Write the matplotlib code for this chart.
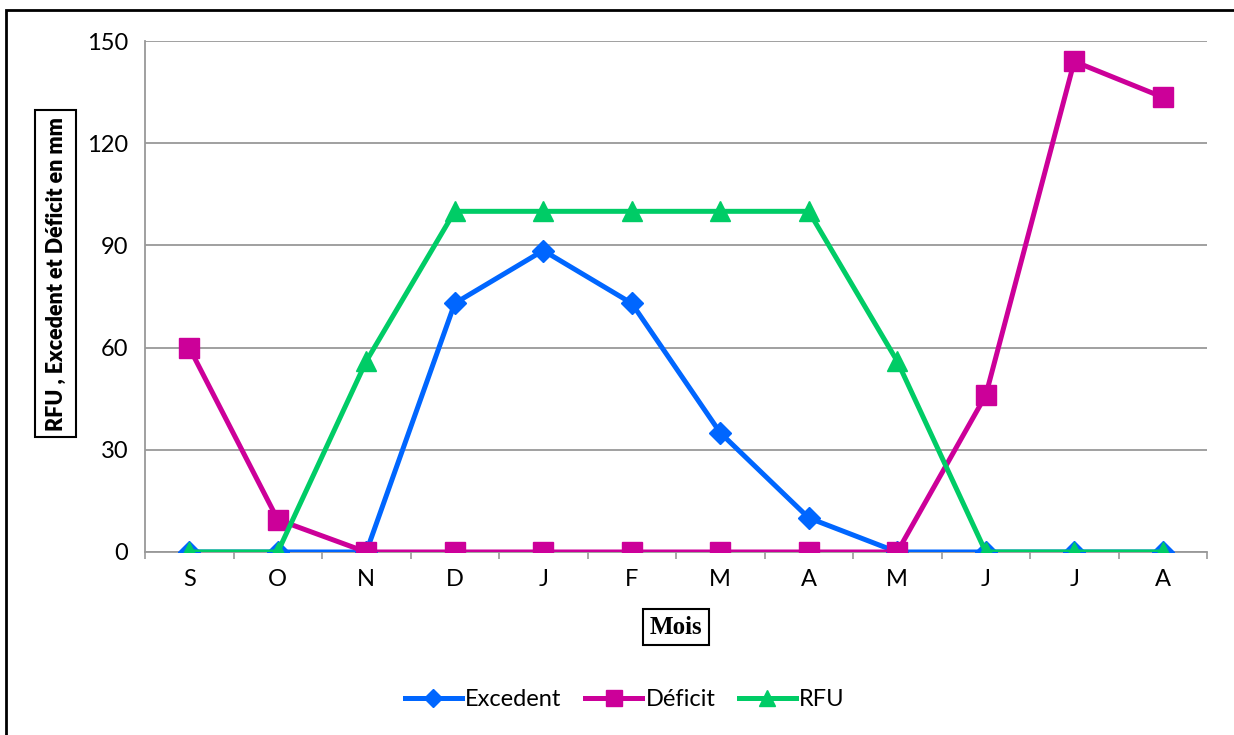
import matplotlib
matplotlib.use("Agg")
import matplotlib.pyplot as plt
from matplotlib.patches import Rectangle

# Monthly water balance (mm)
mois = ["S", "O", "N", "D", "J", "F", "M", "A", "M", "J", "J", "A"]
excedent = [0, 0, 0, 73, 88.5, 73, 35, 10, 0, 0, 0, 0]
deficit = [60, 9.5, 0, 0, 0, 0, 0, 0, 0, 46, 144, 133.5]
rfu = [0, 0, 56, 100, 100, 100, 100, 100, 56, 0, 0, 0]
y_ticks = [0, 30, 60, 90, 120, 150]

W, H = 1234, 735
plt.rcParams["font.family"] = ["Lato", "DejaVu Sans"]

fig = plt.figure(figsize=(W / 100, H / 100), dpi=100)
ax = fig.add_axes([145 / W, 1 - 552 / H, (1207 - 145) / W, (552 - 41) / H])

x = list(range(len(mois)))
lw = 3.6
ax.plot(x, excedent, color="#0066FF", lw=lw, marker="D", ms=11,
        label="Excedent", zorder=3)
ax.plot(x, deficit, color="#CC0099", lw=lw, marker="s", ms=14,
        label="Déficit", zorder=4)
ax.plot(x, rfu, color="#00CC66", lw=lw, marker="^", ms=14,
        label="RFU", zorder=5)

ax.set_xlim(-0.5, len(mois) - 0.5)
ax.set_ylim(0, 150)
ax.set_yticks(y_ticks)
ax.set_xticks(x)
ax.set_xticklabels(mois)
ax.set_xticks([i - 0.5 for i in range(len(mois) + 1)], minor=True)
ax.tick_params(axis="x", which="major", length=0, pad=12, labelsize=17)
ax.tick_params(axis="x", which="minor", length=5, width=1.2, color="#999999",
               direction="out")
ax.tick_params(axis="y", length=0, pad=12, labelsize=17)

ax.grid(axis="y", color="#999999", lw=1.3)
ax.set_axisbelow(True)
for side in ("top", "right"):
    ax.spines[side].set_visible(False)
for side in ("left", "bottom"):
    ax.spines[side].set_color("#999999")
    ax.spines[side].set_linewidth(1.3)

# Y-axis title inside a framed box
fig.patches.append(Rectangle((35 / W, 1 - 437 / H), 41 / W, 327 / H,
                             transform=fig.transFigure, fill=True,
                             fc="white", ec="black", lw=1.5))
fig.text(56 / W, 1 - 274 / H, "RFU , Excedent et Déficit en mm",
         rotation=90, ha="center", va="center", fontsize=15.5,
         fontweight="heavy")
# X-axis title inside a framed box
fig.text(676 / W, 1 - 627 / H, "Mois", ha="center", va="center",
         fontsize=18, fontweight="bold", family=["Liberation Serif"],
         bbox=dict(boxstyle="square,pad=0.25", fc="white", ec="black", lw=1.5))

fig.legend(loc="center", bbox_to_anchor=(625 / W, 1 - 700 / H), ncol=3,
           frameon=False, fontsize=17, handlelength=2.4, columnspacing=1.0,
           handletextpad=0.15, markerscale=0.8)

# Outer chart frame (only top and left edges fall inside the canvas)
fig.patches.append(Rectangle((6 / W, -0.5), 2, 1.5 - 10 / H,
                             transform=fig.transFigure, fill=False,
                             ec="black", lw=2))

fig.savefig("out.png", dpi=100)
